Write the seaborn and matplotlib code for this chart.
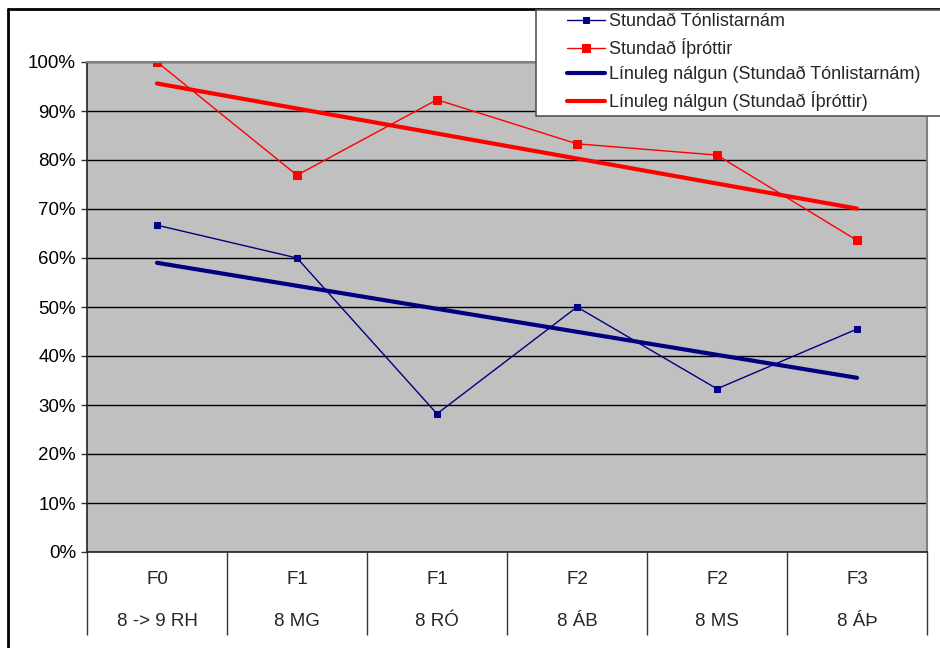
import numpy as np
import seaborn as sns
import matplotlib.pyplot as plt
from matplotlib.patches import Rectangle
from matplotlib.lines import Line2D
from matplotlib.ticker import PercentFormatter, FixedLocator
from matplotlib.transforms import blended_transform_factory

sns.set_style('white')
plt.rcParams['font.family'] = ['Liberation Sans', 'DejaVu Sans']

grades = ['F0', 'F1', 'F1', 'F2', 'F2', 'F3']
classes = ['8 -> 9 RH', '8 MG', '8 RÓ', '8 ÁB', '8 MS', '8 ÁÞ']
music = [0.667, 0.600, 0.282, 0.500, 0.333, 0.455]
sports = [1.000, 0.769, 0.923, 0.833, 0.810, 0.636]

NAVY = '#000080'
RED = '#FF0000'

fig = plt.figure(figsize=(9.4, 6.48), dpi=100)
ax = fig.add_axes([87 / 940, 1 - 552 / 648, (927 - 87) / 940, (552 - 62) / 648])
ax.set_facecolor('#C0C0C0')

pos = np.arange(len(classes))

sns.lineplot(x=pos, y=music, color=NAVY, lw=1, marker='s', markersize=4.5,
             markeredgecolor=NAVY, label='Stundað Tónlistarnám', ax=ax, legend=False)
sns.lineplot(x=pos, y=sports, color=RED, lw=1, marker='s', markersize=6,
             markeredgecolor=RED, label='Stundað Íþróttir', ax=ax, legend=False)
# linear trend lines (Excel "Línuleg nálgun")
sns.regplot(x=pos, y=music, scatter=False, ci=None, truncate=True, ax=ax,
            label='Línuleg nálgun (Stundað Tónlistarnám)', line_kws=dict(color=NAVY, lw=3))
sns.regplot(x=pos, y=sports, scatter=False, ci=None, truncate=True, ax=ax,
            label='Línuleg nálgun (Stundað Íþróttir)', line_kws=dict(color=RED, lw=3))

ax.set_xlim(-0.5, len(classes) - 0.5)
ax.set_ylim(0, 1)
ax.set_yticks(np.arange(0, 1.01, 0.1))
ax.yaxis.set_major_formatter(PercentFormatter(1.0, decimals=0))
ax.yaxis.grid(True, color='black', lw=1)
ax.set_axisbelow(True)
ax.tick_params(axis='y', left=True, length=4, width=1, color='#333333',
               labelsize=13.5, pad=4, labelcolor='black')
ax.set_xlabel('')
ax.set_ylabel('')

# category table below the axis
ax.set_xticks(pos)
ax.set_xticklabels([])
ax.tick_params(axis='x', which='major', length=0)
ax.xaxis.set_minor_locator(FixedLocator(np.arange(-0.5, len(classes), 1.0)))
ax.tick_params(axis='x', which='minor', bottom=True, length=60, width=1,
               color='#333333', direction='out')
trans = blended_transform_factory(ax.transData, ax.transAxes)
for i, (g, c) in enumerate(zip(grades, classes)):
    ax.text(i, -(580 - 552) / 490, g, transform=trans, ha='center', va='center', fontsize=13.5)
    ax.text(i, -(622 - 552) / 490, c, transform=trans, ha='center', va='center', fontsize=13.5)

for side in ['left', 'bottom']:
    ax.spines[side].set_color('#222222')
    ax.spines[side].set_linewidth(1.2)
for side in ['top', 'right']:
    ax.spines[side].set_color('#808080')
    ax.spines[side].set_linewidth(1.5)

# chart border (cropped on the right and bottom)
fig.add_artist(Line2D([8 / 940, 8 / 940], [0, 1 - 9 / 648], transform=fig.transFigure,
                      color='black', lw=2))
fig.add_artist(Line2D([8 / 940, 1], [1 - 9 / 648, 1 - 9 / 648], transform=fig.transFigure,
                      color='black', lw=2))

# legend box
fig.add_artist(Rectangle((536 / 940, 1 - 116 / 648), 0.5, (116 - 10) / 648,
                         transform=fig.transFigure, facecolor='white',
                         edgecolor='#555555', lw=1.2, zorder=4))
handles, labels = ax.get_legend_handles_labels()
fig.legend(handles, labels, loc='upper left', bbox_to_anchor=(567 / 940, 1 - 13 / 648),
           frameon=False, borderpad=0, borderaxespad=0, handlelength=2.1,
           handletextpad=0.2, labelspacing=0.44, fontsize=13)

fig.savefig('out.png', dpi=100)
